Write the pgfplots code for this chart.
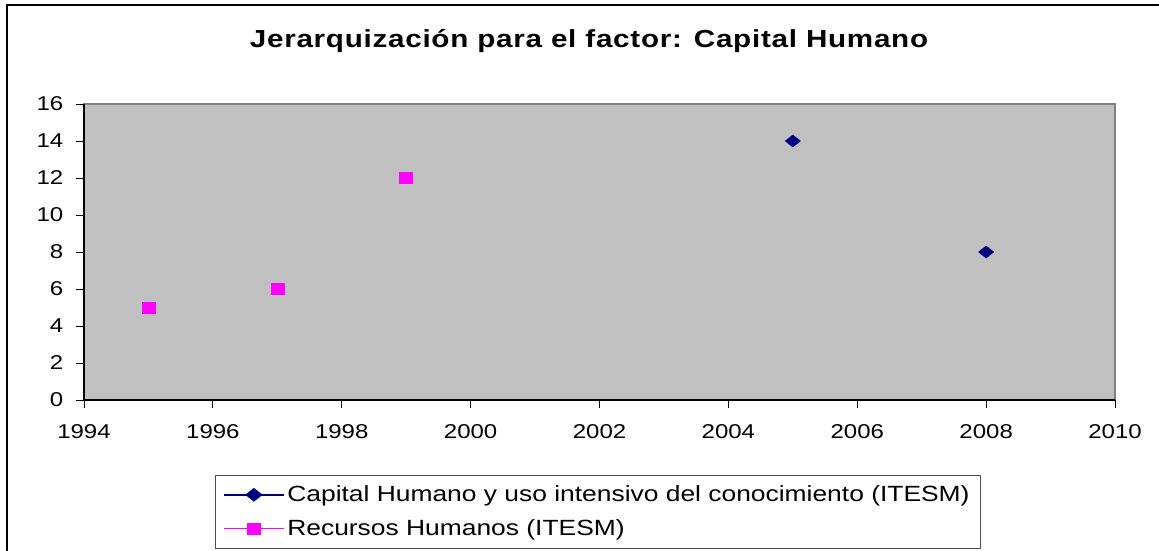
\documentclass[border=0pt]{standalone}
\usepackage{fontspec}
\setmainfont[FakeStretch=1.2]{Liberation Sans}
\usepackage{pgfplots}
\pgfplotsset{compat=1.18}
\definecolor{plotgray}{HTML}{C0C0C0}
\definecolor{navyc}{HTML}{000080}
\definecolor{magc}{HTML}{FF00FF}
\begin{document}
\begin{tikzpicture}[x=0.75pt,y=0.75pt]
\useasboundingbox (0,0) rectangle (1159,550);
\draw[line width=1.5pt] (7,545) rectangle (1175,-10);
\node[font=\fontsize{18.5}{20}\selectfont\bfseries\addfontfeature{LetterSpace=3}] at (589,509) {Jerarquización para el factor: Capital Humano};
\begin{axis}[
  at={(63pt,112.5pt)}, anchor=south west,
  scale only axis, width=773.25pt, height=222pt,
  xmin=1994, xmax=2010, ymin=0, ymax=16,
  xtick={1994,1996,...,2010}, ytick={0,2,...,16},
  axis x line*=bottom, axis y line*=left,
  axis line style={black, line width=0.8pt, -},
  axis background/.style={fill=plotgray, draw=gray, line width=0.8pt},
  tick align=outside, major tick length=6pt, tick style={black, line width=0.6pt},
  /pgf/number format/assume math mode=true,
  /pgf/number format/1000 sep={},
  ticklabel style={font=\fontsize{15}{18}\selectfont},
  xticklabel style={yshift=-9pt},
  yticklabel style={xshift=-6pt},
  legend style={at={(0.127,-0.253)}, anchor=north west, draw=black!70, fill=white,
    font=\fontsize{16.5}{19}\selectfont, cells={anchor=west}, row sep=8pt,
    inner xsep=6pt, inner ysep=6pt},
  legend image code/.code={\draw[sharp plot, line width=1.1pt, mark repeat=2, mark phase=2] plot coordinates {(0pt,0pt)(22.5pt,0pt)(45pt,0pt)};},
]
\addplot[only marks, color=navyc, mark=diamond*, mark size=4.5pt, mark options={xscale=1.67}] coordinates {(2005,14) (2008,8)};
\addlegendentry{Capital Humano y uso intensivo del conocimiento (ITESM)}
\addplot[only marks, color=magc, mark=square*, mark size=4.1pt, mark options={xscale=1.18}] coordinates {(1995,5) (1997,6) (1999,12)};
\addlegendentry{Recursos Humanos (ITESM)}
\end{axis}
\end{tikzpicture}
\end{document}
